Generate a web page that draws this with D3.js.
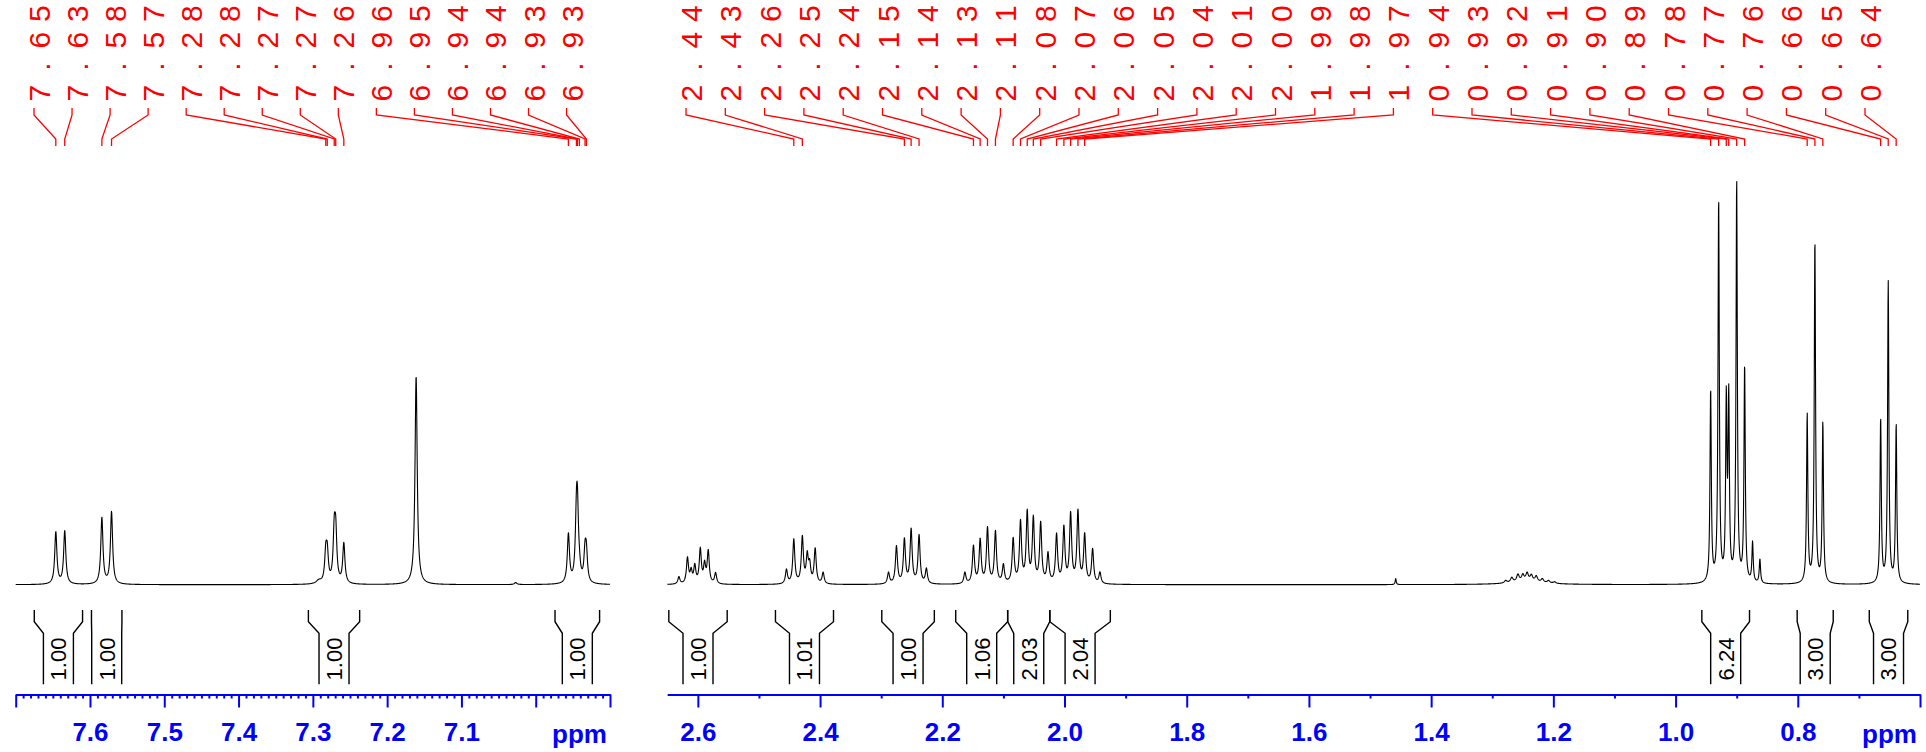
<!DOCTYPE html>
<html>
<head>
<meta charset="utf-8">
<script src="https://cdn.jsdelivr.net/npm/d3@7"></script>
<style>
  body { margin: 0; background: #fff; }
  svg { display: block; }
</style>
</head>
<body>
<svg id="chart" width="1926" height="752"></svg>
<script>
// ---------------- spectral data ----------------
// Aromatic window (ppm, left to right)
const aroWindow = [7.70, 6.90];
// Picked (labelled) lines: position in ppm and intensity (0.90 ppm line = 100)
const aroPickPpm = [7.646, 7.634, 7.584, 7.571, 7.2826, 7.2806, 7.2712, 7.2692, 7.2583,
                    6.956, 6.9452, 6.9438, 6.9412, 6.9336, 6.9318];
const aroPickInt = [13.0, 13.2, 16.5, 18.0, 7.0, 6.8, 11.8, 11.5, 10.0,
                    12.2, 14.0, 14.7, 2.0, 7.0, 6.7];
// Unlabelled signals (CHCl3 residual and minor impurities)
const aroOtherPpm = [7.161, 7.292, 7.027];
const aroOtherInt = [52.0, 0.8, 0.5];
const aroOtherWid = [0.0035, 0.008, 0.004];
const aroLineWidth = 0.0035;

// Aliphatic window
const aliWindow = [2.65, 0.60];
const aliPickPpm = [2.443, 2.429,
                    2.262, 2.251, 2.238,
                    2.149, 2.138, 2.126, 2.113, 2.084, 2.072, 2.061, 2.051, 2.039,
                    2.013, 2.001, 1.990, 1.978, 1.967,
                    0.9426, 0.9295, 0.917, 0.913, 0.900, 0.887,
                    0.7846, 0.772, 0.759,
                    0.6644, 0.652, 0.639];
const aliPickInt = [11.0, 11.5,
                    11.0, 13.4, 12.0,
                    9.3, 10.8, 13.7, 12.9, 11.0, 15.1, 17.4, 15.9, 14.9,
                    12.0, 13.7, 17.1, 17.8, 12.0,
                    48.0, 95.6, 44.0, 44.5, 100.0, 54.0,
                    42.0, 85.5, 40.0,
                    41.0, 75.0, 39.5];
const aliOtherPpm = [2.631, 2.617, 2.611, 2.605, 2.596, 2.589, 2.583, 2.571,
                     2.455, 2.421, 2.417, 2.408, 2.395,
                     2.288, 2.275, 2.226,
                     2.163, 2.100, 2.027, 1.954, 1.942,
                     0.874, 0.862,
                     1.458,
                     1.278, 1.268, 1.258, 1.250, 1.243, 1.236, 1.228, 1.218, 1.208, 1.198, 1.243];
const aliOtherInt = [1.8, 6.4, 3.0, 4.3, 8.5, 4.5, 8.0, 2.7,
                     3.5, 6.6, 4.3, 8.7, 2.8,
                     2.8, 9.3, 3.7,
                     2.8, 4.5, 7.2, 8.5, 2.8,
                     10.0, 6.0,
                     1.5,
                     0.6, 1.2, 1.8, 1.6, 2.0, 1.5, 1.4, 0.9, 0.6, 0.4, 0.7];
const aliOtherWid = [0.004, 0.004, 0.004, 0.004, 0.004, 0.004, 0.004, 0.004,
                     0.004, 0.004, 0.004, 0.004, 0.004,
                     0.004, 0.004, 0.004,
                     0.004, 0.004, 0.004, 0.004, 0.004,
                     0.0025, 0.0025,
                     0.002,
                     0.005, 0.005, 0.005, 0.005, 0.005, 0.005, 0.005, 0.005, 0.005, 0.005, 0.07];
// line widths of the picked aliphatic lines: multiplets broader than methyl lines
const aliMultipletWidth = 0.004;
const aliMethylWidth = 0.0025;

// Integral regions [from, to] in ppm and their values
const aroIntRegions = [[7.675, 7.610], [7.598, 7.557], [7.306, 7.237], [6.974, 6.914]];
const aroIntValues  = [1.00, 1.00, 1.00, 1.00];
const aliIntRegions = [[2.6475, 2.552], [2.473, 2.378], [2.299, 2.213], [2.178, 2.093],
                       [2.093, 2.024], [2.024, 1.925], [0.957, 0.879], [0.801, 0.742], [0.683, 0.620]];
const aliIntValues  = [1.00, 1.01, 1.00, 1.06, 2.03, 2.04, 6.24, 3.00, 3.00];

// Axis ticks
const aroMajorTicks = [7.7, 7.6, 7.5, 7.4, 7.3, 7.2, 7.1, 7.0, 6.9];
const aroTickLabels = ["", "7.6", "7.5", "7.4", "7.3", "7.2", "7.1", "", ""];
const aliMajorTicks = [2.6, 2.4, 2.2, 2.0, 1.8, 1.6, 1.4, 1.2, 1.0, 0.8, 0.6];
const aliTickLabels = ["2.6", "2.4", "2.2", "2.0", "1.8", "1.6", "1.4", "1.2", "1.0", "0.8", ""];
const aliMinorTicks = [2.5, 2.3, 2.1, 1.9, 1.7, 1.5, 1.3, 1.1, 0.9, 0.7];

// ---------------- layout ----------------
const FONT = '"Liberation Sans", Arial, Helvetica, sans-serif';
const BLUE = "#0000ff", RED = "#ff0000";
const svg = d3.select("#chart");
svg.append("rect").attr("width", 1926).attr("height", 752).attr("fill", "#fff");

const axisY = 694.5;
const y = d3.scaleLinear().domain([0, 100]).range([584.7, 183]);

const panels = [
  {
    x: d3.scaleLinear().domain(aroWindow).range([15.7, 610]),
    lines: aroPickPpm.map((p, i) => ({ppm: p, h: aroPickInt[i], w: aroLineWidth}))
      .concat(aroOtherPpm.map((p, i) => ({ppm: p, h: aroOtherInt[i], w: aroOtherWid[i]}))),
    picks: aroPickPpm,
    labelStart: 34, labelStep: 38.04,
    intRegions: aroIntRegions, intValues: aroIntValues,
    majors: aroMajorTicks, majorLabels: aroTickLabels,
    minors: d3.range(691, 770).map(v => v / 100).filter(v => Math.round(v * 100) % 10 !== 0)
  },
  {
    x: d3.scaleLinear().domain(aliWindow).range([667.3, 1920]),
    lines: aliPickPpm.map((p, i) => ({ppm: p, h: aliPickInt[i], w: p < 1.2 ? aliMethylWidth : aliMultipletWidth}))
      .concat(aliOtherPpm.map((p, i) => ({ppm: p, h: aliOtherInt[i], w: aliOtherWid[i]}))),
    picks: aliPickPpm,
    labelStart: 686, labelStep: 39.3,
    intRegions: aliIntRegions, intValues: aliIntValues,
    majors: aliMajorTicks, majorLabels: aliTickLabels,
    minors: aliMinorTicks
  }
];

// Lorentzian sum of all lines at a given shift
function intensityAt(lines, p) {
  let s = 0;
  for (const l of lines) {
    const d = (p - l.ppm) / (l.w / 2);
    s += l.h / (1 + d * d);
  }
  return s;
}

panels.forEach(P => {
  const x = P.x;
  const g = svg.append("g");

  // --- spectrum trace ---
  const [p0, p1] = x.domain();
  const nPts = Math.round((x.range()[1] - x.range()[0]) * 4);
  const trace = d3.range(nPts + 1).map(k => {
    const p = p0 + (p1 - p0) * k / nPts;
    return [p, intensityAt(P.lines, p)];
  });
  g.append("path")
    .datum(trace)
    .attr("fill", "none")
    .attr("stroke", "#000")
    .attr("stroke-width", 1.1)
    .attr("stroke-linejoin", "round")
    .attr("d", d3.line().x(d => x(d[0])).y(d => y(d[1])));

  // --- peak labels with leader lines ---
  // leader: short drop under the label, slanted run to the line, short drop to the line
  const yTop = 108, yB1 = 115, yB2 = 139, yBot = 146;
  // labels are set vertically in fixed-pitch character cells
  const textBase = 106.3, cell = 26.5;
  P.picks.forEach((ppm, i) => {
    const lx = P.labelStart + i * P.labelStep;
    const px = x(ppm);
    g.append("path")
      .attr("d", `M${lx},${yTop}V${yB1}L${px},${yB2}V${yBot}`)
      .attr("fill", "none").attr("stroke", RED).attr("stroke-width", 1.3);
    const t = g.append("text")
      .attr("transform", `translate(${lx + 16},${textBase}) rotate(-90)`)
      .attr("font-family", FONT).attr("font-size", 30)
      .attr("fill", RED);
    t.selectAll("tspan")
      .data(d3.format(".2f")(ppm).split(""))
      .join("tspan")
      .attr("x", (d, k) => (k + 0.5) * cell)
      .attr("y", 0)
      .attr("text-anchor", "middle")
      .text(d => d);
  });

  // --- integrals ---
  const iTop = 610, iB1 = 621.7, iB2 = 633.3, iBot = 684.3, half = 15;
  P.intRegions.forEach((r, i) => {
    const xa = x(r[0]), xb = x(r[1]);
    const c = (xa + xb) / 2;
    const ia = Math.max(xa, c - half), ib = Math.min(xb, c + half);
    g.append("path")
      .attr("d", `M${xa},${iTop}V${iB1}L${ia},${iB2}V${iBot}M${xb},${iTop}V${iB1}L${ib},${iB2}V${iBot}`)
      .attr("fill", "none").attr("stroke", "#000").attr("stroke-width", 1.4);
    g.append("text")
      .attr("transform", `translate(${c},659) rotate(-90)`)
      .attr("text-anchor", "middle").attr("dy", "0.36em")
      .attr("font-family", FONT).attr("font-size", 22).attr("fill", "#000")
      .text(d3.format(".2f")(P.intValues[i]));
  });

  // --- ppm axis ---
  const labelFor = new Map(P.majors.map((v, i) => [v, P.majorLabels[i]]));
  const minorAxis = d3.axisBottom(x).tickValues(P.minors).tickSize(4).tickSizeOuter(0).tickFormat("");
  const majorAxis = d3.axisBottom(x).tickValues(P.majors).tickSize(13).tickSizeOuter(0)
    .tickPadding(15).tickFormat(d => labelFor.get(d));
  const ga = g.append("g").attr("transform", `translate(0,${axisY})`);
  ga.append("g").call(minorAxis);
  ga.append("g").call(majorAxis);
  ga.selectAll("path.domain").attr("stroke", BLUE).attr("stroke-width", 2.2);
  ga.selectAll(".tick line").attr("stroke", BLUE).attr("stroke-width", 2);
  ga.selectAll(".tick text")
    .attr("fill", BLUE).attr("font-family", FONT).attr("font-size", 26).attr("font-weight", "bold");
  ga.append("text")
    .attr("x", x.range()[1] - 3).attr("y", 48)
    .attr("text-anchor", "end")
    .attr("fill", BLUE).attr("font-family", FONT).attr("font-size", 26).attr("font-weight", "bold")
    .text("ppm");
});
</script>
</body>
</html>
